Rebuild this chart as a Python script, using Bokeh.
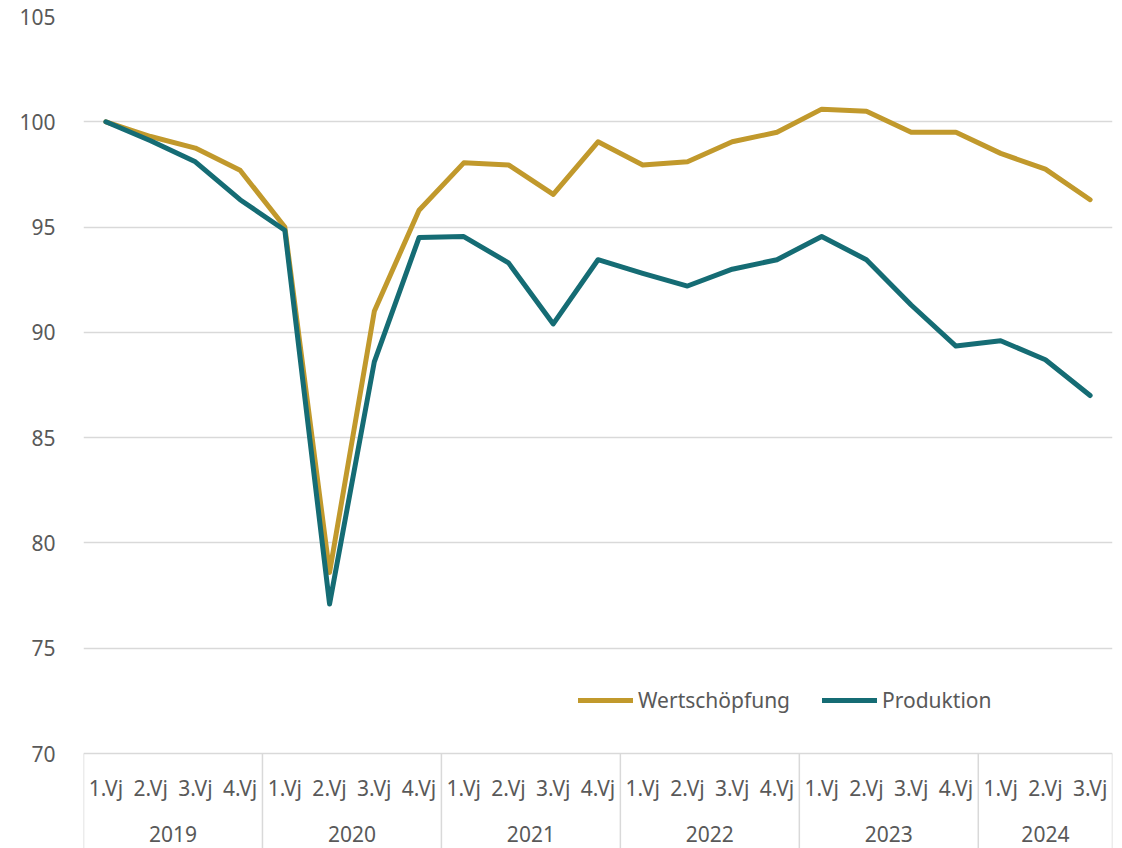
from bokeh.plotting import figure
from bokeh.models import FactorRange, Range1d, FixedTicker, Legend, LegendItem
from bokeh.core.properties import value
from bokeh.embed import file_html
from bokeh.resources import INLINE

years = ["2019", "2020", "2021", "2022", "2023", "2024"]
quarters = ["1.Vj", "2.Vj", "3.Vj", "4.Vj"]
n_last = 3  # quarters available in 2024

factors = [(y, q) for y in years for q in quarters]
factors = factors[: 4 * (len(years) - 1) + n_last]

wertschoepfung = [100.0, 99.3, 98.75, 97.7, 95.0, 78.6, 91.0, 95.8,
                  98.05, 97.95, 96.55, 99.05, 97.95, 98.1, 99.05, 99.5,
                  100.6, 100.5, 99.5, 99.5, 98.5, 97.75, 96.3]
produktion = [100.0, 99.1, 98.1, 96.3, 94.85, 77.1, 88.6, 94.5,
              94.55, 93.3, 90.4, 93.45, 92.8, 92.2, 93.0, 93.45,
              94.55, 93.45, 91.3, 89.35, 89.6, 88.7, 87.0]
y_ticks = [70, 75, 80, 85, 90, 95, 100, 105]

C_W = "#C1992C"
C_P = "#156C74"
GRID = "#D9D9D9"
TXT = "#595959"
FONT = "Noto Sans"

# layout (pixels)
W, H = 1114, 848
TOP, LEFT, RIGHT = 16, 83, 2
AXIS_PX = 95            # space below the y=70 line for the category labels
Y_MIN, Y_MAX = y_ticks[0], y_ticks[-1]
plot_px = H - TOP - AXIS_PX
px_per_unit = plot_px / (Y_MAX - Y_MIN)
y_bottom = Y_MIN - AXIS_PX / px_per_unit
q_label_y = Y_MIN - 34 / px_per_unit
yr_label_y = Y_MIN - 80 / px_per_unit

p = figure(width=W, height=H, output_backend="svg", toolbar_location=None,
           x_range=FactorRange(*factors, group_padding=0, subgroup_padding=0, range_padding=0),
           y_range=Range1d(y_bottom, Y_MAX),
           min_border_left=LEFT, min_border_right=RIGHT, min_border_top=TOP, min_border_bottom=0)
p.outline_line_color = None

# group separators (including outer edges) below the axis line
bounds = [0]
for i in range(1, len(factors)):
    if factors[i][0] != factors[i - 1][0]:
        bounds.append(i)
bounds.append(len(factors))
p.segment(x0=bounds, y0=[Y_MIN] * len(bounds), x1=bounds, y1=[y_bottom] * len(bounds),
          line_color=GRID, line_width=1.5)

# category labels
p.text(x=factors, y=[q_label_y] * len(factors), text=[f[1] for f in factors],
       text_align="center", text_baseline="middle", text_font=value(FONT),
       text_font_size="21px", text_color=TXT)
p.text(x=years, y=[yr_label_y] * len(years), text=years,
       text_align="center", text_baseline="middle", text_font=value(FONT),
       text_font_size="21px", text_color=TXT)

r1 = p.line(factors, wertschoepfung, line_color=C_W, line_width=5,
            line_cap="round", line_join="round")
r2 = p.line(factors, produktion, line_color=C_P, line_width=5,
            line_cap="round", line_join="round")

p.xaxis.visible = False
p.yaxis.ticker = FixedTicker(ticks=y_ticks)
p.yaxis.axis_line_color = None
p.yaxis.major_tick_line_color = None
p.yaxis.minor_tick_line_color = None
p.yaxis.major_label_text_font = FONT
p.yaxis.major_label_text_font_size = "21px"
p.yaxis.major_label_text_color = TXT
p.yaxis.major_label_standoff = 22

p.ygrid.grid_line_color = GRID
p.ygrid.grid_line_width = 1.5
p.ygrid.ticker = FixedTicker(ticks=y_ticks)
p.xgrid.grid_line_color = None

legend = Legend(items=[LegendItem(label="Wertschöpfung", renderers=[r1]),
                       LegendItem(label="Produktion", renderers=[r2])],
                orientation="horizontal", location=(495, 134),
                glyph_width=55, glyph_height=20, spacing=32, padding=0, margin=0,
                label_standoff=5,
                label_text_font=FONT, label_text_font_size="21px", label_text_color=TXT,
                border_line_color=None, background_fill_alpha=0)
p.add_layout(legend, "center")

open("out.html", "w").write(file_html(p, INLINE))
